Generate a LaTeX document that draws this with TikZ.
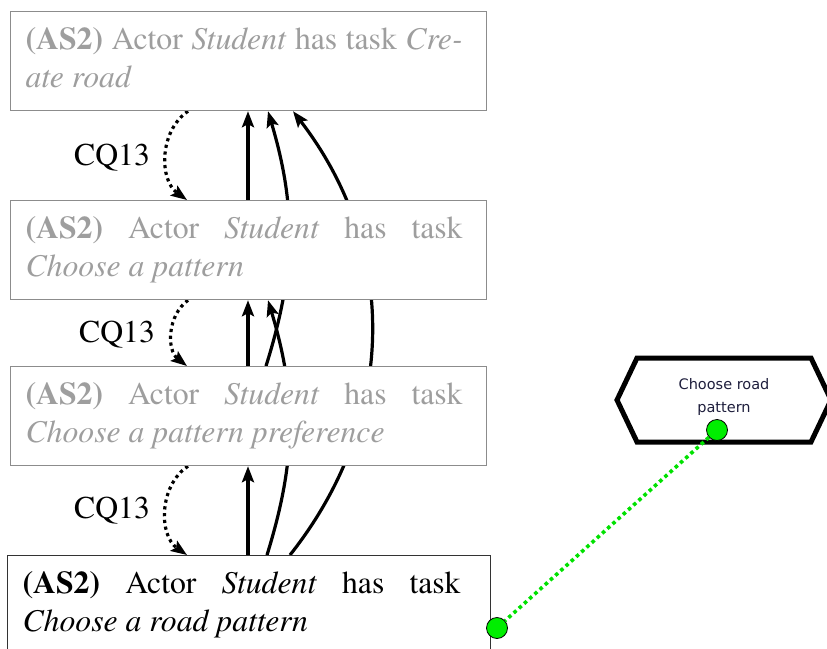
\documentclass[tikz,border=0pt]{standalone}
\usepackage{fontspec}
\setmainfont{texgyretermes}[Extension=.otf, UprightFont=*-regular, BoldFont=*-bold, ItalicFont=*-italic, BoldItalicFont=*-bolditalic]
\newfontfamily\hexfont{DejaVu Sans}
\usetikzlibrary{arrows.meta,backgrounds}
\definecolor{boxgray}{RGB}{140,140,140}
\definecolor{txtgray}{RGB}{158,158,158}
\definecolor{hexblue}{RGB}{30,30,60}
\definecolor{gfill}{RGB}{0,238,0}
\definecolor{gline}{RGB}{0,225,0}
\newcommand{\astext}[3]{\fontsize{31.7}{38}\selectfont\parbox{#1}{\strut\textbf{(AS2)} Actor \emph{Student} has task #2\strut}\hspace*{#3}}
\tikzset{
  asbox/.style={draw=boxgray, line width=1.2pt, fill=white, anchor=north west,
    inner xsep=15pt, minimum height=99pt, text=txtgray},
  curbox/.style={draw=black!80, line width=1.2pt, fill=white, anchor=north west,
    inner xsep=15pt, minimum height=99pt, text=black},
  solidarrow/.style={line width=3.2pt, -{Stealth[length=16pt,width=12pt,inset=3pt]}},
  dotarrow/.style={line width=3.2pt, dash pattern=on 3.2pt off 3.6pt, -{Stealth[length=16pt,width=12pt,inset=3pt]}},
  lbl/.style={font=\fontsize{31.7}{38}\selectfont, anchor=base, inner sep=0pt},
  gdot/.style={circle, draw=black, line width=0.8pt, fill=gfill, minimum size=21pt, inner sep=0pt},
  gdash/.style={gline, line width=3.6pt, dash pattern=on 3.6pt off 3.4pt},
}
\begin{document}
\begin{tikzpicture}[x=1pt,y=-1pt]
\useasboundingbox (0,0) rectangle (827,648);
\node[asbox] (b1) at (10,11) {\astext{437pt}{\emph{Cre-}\linebreak \emph{ate road}}{9pt}};
\node[asbox] (b2) at (10,200) {\astext{437pt}{\linebreak \emph{Choose a pattern}}{9pt}};
\node[asbox] (b3) at (10,366) {\astext{437pt}{\linebreak \emph{Choose a pattern preference}}{9pt}};
\node[curbox] (b4) at (7,555) {\astext{438pt}{\linebreak \emph{Choose a road pattern}}{15pt}};
\begin{scope}[on background layer]
  % straight arrows
  \draw[solidarrow] ([xshift=238pt]b2.north west) -- ([xshift=238pt]b1.south west);
  \draw[solidarrow] ([xshift=238pt]b3.north west) -- ([xshift=238pt]b2.south west);
  \draw[solidarrow] ([xshift=241pt]b4.north west) -- ([xshift=238pt]b3.south west);
  % skipping arrows
  \draw[solidarrow] ([xshift=260pt]b4.north west) to[bend right=17] ([xshift=258pt]b2.south west);
  \draw[solidarrow] ([xshift=256pt]b3.north west) to[bend right=17] ([xshift=258pt]b1.south west);
  \draw[solidarrow] ([xshift=283pt]b4.north west) to[bend right=38] ([xshift=283pt]b1.south west);
  % dotted CQ13 arrows
  \draw[dotarrow] ([xshift=178pt]b1.south west) to[bend right=55] ([xshift=177pt]b2.north west);
  \draw[dotarrow] ([xshift=178pt]b2.south west) to[bend right=53] ([xshift=177pt]b3.north west);
  \draw[dotarrow] ([xshift=178pt]b3.south west) to[bend right=56] ([xshift=180pt]b4.north west);
\end{scope}
\node[lbl] (q1) at (112,165) {CQ13};
\node[lbl] (q2) at (117,342) {CQ13};
\node[lbl] (q3) at (112,518) {CQ13};
% hexagon task
\draw[line width=5pt, line join=miter] (617,400) -- (637,358) -- (811,358) -- (831,400) -- (811,442) -- (637,442) -- cycle;
\node[font=\hexfont\fontsize{14.5}{22.5}\selectfont, text=hexblue, align=center] (hex) at (724,397) {Choose road\\pattern};
\node[gdot] (g1) at (717,430) {};
\node[gdot] (g2) at (497,628) {};
\draw[gdash] (g1) -- (g2);
\end{tikzpicture}
\end{document}
